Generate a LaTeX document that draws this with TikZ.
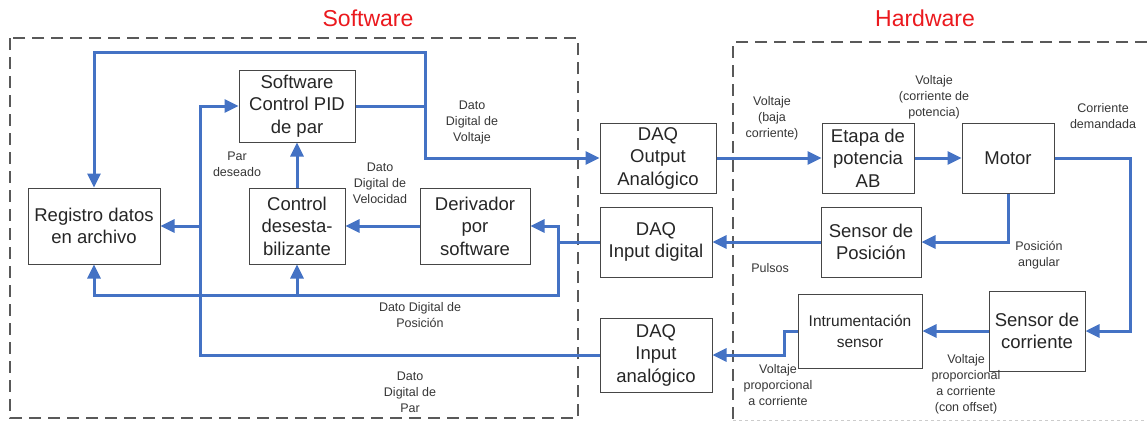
\documentclass[tikz,border=0pt]{standalone}
\usepackage{fontspec}
\setmainfont{Liberation Sans}
\usetikzlibrary{arrows.meta}
\definecolor{lineblue}{RGB}{68,114,196}
\definecolor{boxgray}{RGB}{70,70,70}
\definecolor{lblgray}{RGB}{55,55,55}
\definecolor{ttlred}{RGB}{235,25,30}
\begin{document}
\begin{tikzpicture}[x=1pt,y=-1pt,
  blk/.style={draw=boxgray, line width=1pt, fill=white, align=center, inner sep=0pt, font=\fontsize{18.5}{22.5}\selectfont, text=black!85},
  con/.style={draw=lineblue, line width=3pt, -{Triangle[length=14pt,width=13pt]}},
  wire/.style={draw=lineblue, line width=3pt},
  lbl/.style={align=center, font=\fontsize{12.5}{16}\selectfont, text=lblgray},
  ttl/.style={font=\fontsize{23}{27}\selectfont, text=ttlred},
  region/.style={draw=black!65, line width=1.2pt, dash pattern=on 12pt off 7pt}]

\useasboundingbox (0,0) rectangle (1147,423);
\fill[white] (0,0) rectangle (1147,423);

% regions
\draw[region] (10,38) rectangle (578,418);
\draw[region] (1147,42) -- (733,42) -- (733,420);
\draw[draw=black!20, line width=1pt, dash pattern=on 3pt off 3pt] (733,420) -- (1147,420);

% titles
\node[ttl] (tsw) at (368,18) {Software};
\node[ttl] (thw) at (925,18) {Hardware};

% software blocks
\node[blk, minimum width=116pt, minimum height=72pt] (pid) at (297,106) {Software\\Control PID\\de par};
\node[blk, minimum width=132pt, minimum height=76pt] (reg) at (94,226) {Registro datos\\en archivo};
\node[blk, minimum width=96pt, minimum height=76pt] (ctrl) at (297,226) {Control\\desesta-\\bilizante};
\node[blk, minimum width=110pt, minimum height=76pt] (der) at (475,226) {Derivador\\por\\software};

% DAQ blocks
\node[blk, minimum width=116pt, minimum height=70pt] (daqo) at (658,158) {DAQ\\Output\\Analógico};
\node[blk, minimum width=112pt, minimum height=70pt] (daqd) at (656,242) {DAQ\\Input digital};
\node[blk, minimum width=112pt, minimum height=74pt] (daqa) at (656,355) {DAQ\\Input\\analógico};

% hardware blocks
\node[blk, minimum width=92pt, minimum height=70pt] (etapa) at (868,158) {Etapa de\\potencia\\AB};
\node[blk, minimum width=92pt, minimum height=70pt] (motor) at (1008,158) {Motor};
\node[blk, minimum width=100pt, minimum height=70pt] (spos) at (871,242) {Sensor de\\Posición};
\node[blk, minimum width=124pt, minimum height=74pt, font=\fontsize{15.5}{21}\selectfont] (instr) at (860,331) {Intrumentación\\sensor};
\node[blk, minimum width=96pt, minimum height=80pt] (scorr) at (1037,331) {Sensor de\\corriente};

% junction coordinates
\coordinate (j2) at (425,106);
\coordinate (top) at (425,52);
\coordinate (j1) at (558,242);
\coordinate (b1) at (558,295);
\coordinate (p1) at (200,355);
\coordinate (mr) at (1130,158);
\coordinate (ia) at (784,331);

% software connectors
\draw[wire] (pid.east) -- (j2);
\draw[con] (j2) |- (daqo.west);
\draw[con] (j2) -- (top) -| (reg.north);
\draw[con] (ctrl.north) -- (pid.south);
\draw[con] (der.west) -- (ctrl.east);
\draw[wire] (daqd.west) -- (j1);
\draw[con] (j1) |- (der.east);
\draw[con] (j1) -- (b1) -| (reg.south);
\draw[con] (ctrl.south |- b1) -- (ctrl.south);
\draw[con] (daqa.west) -- (p1) |- (pid.west);
\draw[con] (p1 |- reg.east) -- (reg.east);

% hardware connectors
\draw[con] (daqo.east) -- (etapa.west);
\draw[con] (etapa.east) -- (motor.west);
\draw[con] (motor.east) -- (mr) |- (scorr.east);
\draw[con] (motor.south) |- (spos.east);
\draw[con] (spos.west) -- (daqd.east);
\draw[con] (scorr.west) -- (instr.east);
\draw[con] (instr.west) -- (ia) |- (daqa.east);

% labels
\node[lbl] (l1) at (472,122) {Dato\\Digital de\\Voltaje};
\node[lbl] (l2) at (237,164) {Par\\deseado};
\node[lbl] (l3) at (380,183) {Dato\\Digital de\\Velocidad};
\node[lbl] (l4) at (420,315) {Dato Digital de\\Posición};
\node[lbl] (l5) at (410,392) {Dato\\Digital de\\Par};
\node[lbl] (l6) at (772,118) {Voltaje\\(baja\\corriente)};
\node[lbl] (l7) at (934,97) {Voltaje\\(corriente de\\potencia)};
\node[lbl] (l8) at (1103,116) {Corriente\\demandada};
\node[lbl] (l9) at (770,268) {Pulsos};
\node[lbl] (l10) at (1039,255) {Posición\\angular};
\node[lbl] (l11) at (778,385) {Voltaje\\proporcional\\a corriente};
\node[lbl] (l12) at (966,384) {Voltaje\\proporcional\\a corriente\\(con offset)};
\end{tikzpicture}
\end{document}
